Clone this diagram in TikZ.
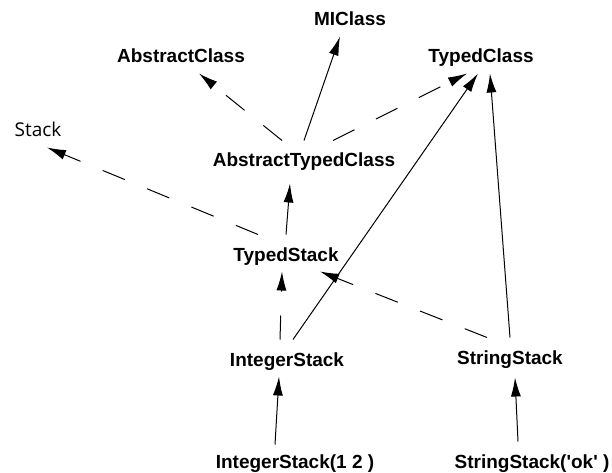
\documentclass[tikz,border=0pt]{standalone}
\usepackage{fontspec}
\setmainfont{Liberation Sans}
\newfontfamily\stackfont{Open Sans}
\usetikzlibrary{arrows.meta}
\begin{document}
\begin{tikzpicture}[x=1pt,y=-1pt,>={Latex[length=19pt,width=10pt]},line width=1pt]
\tikzstyle{every node}=[anchor=base,text height=20pt,text depth=4pt,inner xsep=4pt,inner ysep=6pt,font=\fontsize{19}{22}\selectfont\bfseries]
\tikzstyle{isa}=[->,dash pattern=on 24pt off 24pt]
\useasboundingbox (0,0) rectangle (612,473);
\node (mi) at (350,26) {MIClass};
\node (ac) at (181,63) {AbstractClass};
\node (tc) at (481,63) {TypedClass};
\node[font=\fontsize{19}{22}\selectfont\stackfont] (stack) at (38,137) {Stack};
\node (atc) at (304,167) {AbstractTypedClass};
\node (ts) at (286,261) {TypedStack};
\node (is) at (287,366) {IntegerStack};
\node (ss) at (510,364) {StringStack};
\node (is12) at (295,468) {IntegerStack(1 2 )};
\node (ssok) at (532,468) {StringStack(\textquotesingle ok\textquotesingle\ )};
\draw[->] (atc.north) -- ([xshift=-10pt]mi.south);
\draw[isa] ([xshift=-22pt]atc.north) -- ([xshift=18pt]ac.south);
\draw[isa] ([xshift=29pt]atc.north) -- ([xshift=-14pt]tc.south);
\draw[->] ([xshift=6pt]is.north) -- ([xshift=-3pt]tc.south);
\draw[->] (ss.north) -- ([xshift=9pt]tc.south);
\draw[isa] ([xshift=-28pt]ts.north) -- ([xshift=9pt]stack.south);
\draw[->] (ts.north) -- ([xshift=-14pt,yshift=-6pt]atc.south);
\draw[isa] ([xshift=-7pt]is.north) -- ([xshift=-4pt]ts.south);
\draw[isa] ([xshift=-23pt]ss.north) -- ([xshift=34pt]ts.south);
\draw[->] ([xshift=-20pt,yshift=-3pt]is12.north) -- ([xshift=-8pt]is.south);
\draw[->] ([xshift=-14pt]ssok.north) -- ([xshift=5pt,yshift=-3pt]ss.south);
\end{tikzpicture}
\end{document}
